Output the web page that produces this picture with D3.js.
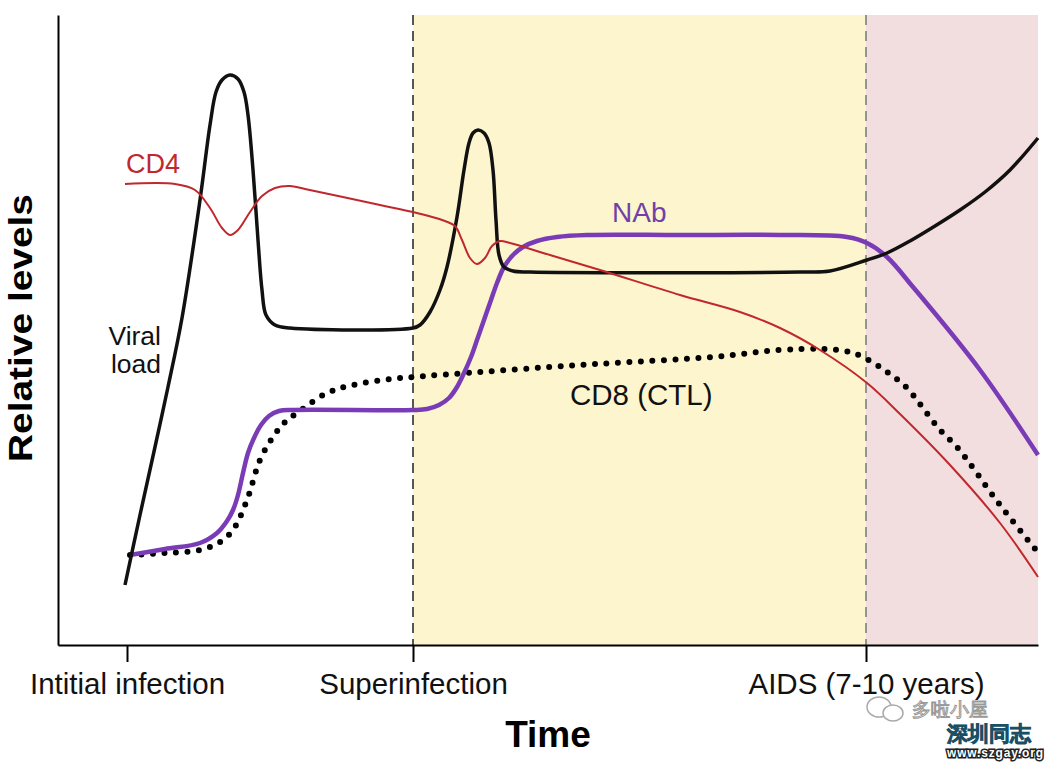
<!DOCTYPE html>
<html lang="en">
<head>
<meta charset="UTF-8"/>
<title>HIV infection time course</title>
<script src="https://cdn.jsdelivr.net/npm/d3@7"></script>
<style>
  body { margin: 0; background: #fff; }
  svg text { font-family: "Liberation Sans", Arial, sans-serif; }
</style>
</head>
<body>
<script>
// time in arbitrary units (0 = initial infection), level in arbitrary units
var tickTimes = [0, 286, 739];
var tickLabels = ["Intitial infection", "Superinfection", "AIDS (7-10 years)"];
var phaseStarts = [286, 739];
var phaseEnds = [739, 911];
var phaseColors = ["#fdf5cd", "#f3dedf"];

var viralLoad = [[-2,60],[13,130],[28,198],[41,258],[55,327],[73,445],[83,520],[89,553],[95,565],
  [103,570],[111,566],[117,553],[121,530],[126,475],[131,405],[135,355],[139,330],[148,320],[163,317],
  [286,317],[293,320],[303,333],[313,355],[320,378],[330,428],[337,475],[342,502],[346,512],[351,515],
  [357,512],[362,502],[366,475],[369,425],[372,390],[377,378],[386,374],[403,373],[673,373],[703,374],
  [740,385],[760,392],[783,404],[808,419],[833,435],[858,453],[883,475],[911,507]];

var cd4 = [[-2,461],[48,461],[68,455],[83,437],[95,417],[103,410],[111,415],[123,433],[135,449],
  [148,457],[163,459],[178,456],[253,440],[286,433],[318,424],[328,419],[335,405],[343,387],[350,381],
  [358,387],[365,399],[373,404],[383,402],[423,390],[473,375],[553,350],[613,333],[653,317],[693,295],
  [740,262],[773,231],[823,180],[873,122],[911,68]];

var nab = [[3,90],[38,96],[73,102],[90,112],[100,124],[106,135],[111,150],[116,172],[121,192],
  [127,207],[134,220],[142,229],[152,234],[166,235],[286,235],[300,236],[312,240],[322,247],[330,258],
  [337,272],[344,288],[350,305],[357,325],[364,345],[370,362],[377,378],[386,390],[396,398],[410,404],
  [430,408],[460,410],[553,410],[653,410],[720,408],[740,402],[760,388],[786,358],[853,275],[911,190]];

var cd8 = [[3,90],[38,92],[73,95],[93,103],[106,115],[120,145],[133,185],[146,208],[158,223],
  [170,232],[200,252],[226,260],[263,266],[286,268],[353,273],[423,278],[486,282],[586,288],[653,295],
  [696,296],[723,293],[736,288],[760,273],[780,257],[796,237],[813,215],[830,198],[873,140],[913,90]];

var w = 1050;
var h = 762;

var svg = d3.select("body")
  .append("svg")
  .attr("width", w)
  .attr("height", h);

var xScale = d3.scaleLinear()
  .domain([-69, 911])
  .range([58, 1038]);

var yScale = d3.scaleLinear()
  .domain([0, 630])
  .range([645, 15]);

// shaded phases
svg.selectAll("rect.phase")
  .data(phaseStarts)
  .enter()
  .append("rect")
  .attr("class", "phase")
  .attr("x", function(d) { return xScale(d); })
  .attr("y", yScale(630))
  .attr("width", function(d, i) { return xScale(phaseEnds[i]) - xScale(d); })
  .attr("height", yScale(0) - yScale(630))
  .attr("fill", function(d, i) { return phaseColors[i]; });

svg.selectAll("line.divider")
  .data(phaseStarts)
  .enter()
  .append("line")
  .attr("class", "divider")
  .attr("x1", function(d) { return xScale(d); })
  .attr("x2", function(d) { return xScale(d); })
  .attr("y1", yScale(630))
  .attr("y2", yScale(0))
  .attr("stroke", function(d, i) { return i == 0 ? "#222" : "#777"; })
  .attr("stroke-width", 1.5)
  .attr("stroke-dasharray", "10,6");

var line = d3.line()
  .x(function(d) { return xScale(d[0]); })
  .y(function(d) { return yScale(d[1]); })
  .curve(d3.curveCatmullRom.alpha(0.5));

svg.append("path")
  .datum(cd8)
  .attr("d", line)
  .attr("fill", "none")
  .attr("stroke", "#000")
  .attr("stroke-width", 6)
  .attr("stroke-linecap", "round")
  .attr("stroke-dasharray", "0,11.5");

svg.append("path")
  .datum(nab)
  .attr("d", line)
  .attr("fill", "none")
  .attr("stroke", "#7a3cb6")
  .attr("stroke-width", 4.5);

svg.append("path")
  .datum(viralLoad)
  .attr("d", line)
  .attr("fill", "none")
  .attr("stroke", "#111")
  .attr("stroke-width", 3.5);

svg.append("path")
  .datum(cd4)
  .attr("d", line)
  .attr("fill", "none")
  .attr("stroke", "#c0282d")
  .attr("stroke-width", 2);

// axes
var xAxis = d3.axisBottom()
  .scale(xScale)
  .tickValues(tickTimes)
  .tickFormat(function(d, i) { return tickLabels[i]; })
  .tickSizeInner(17)
  .tickSizeOuter(0)
  .tickPadding(11);

var yAxis = d3.axisLeft()
  .scale(yScale)
  .tickValues([])
  .tickSizeOuter(0);

var gx = svg.append("g")
  .attr("transform", "translate(0," + yScale(0) + ")")
  .call(xAxis);
gx.select(".domain").attr("stroke-width", 2);
gx.selectAll(".tick line").attr("stroke-width", 2);
gx.selectAll(".tick text")
  .attr("font-family", "Liberation Sans, Arial, sans-serif")
  .attr("font-size", 29.5)
  .attr("fill", "#111");

var gy = svg.append("g")
  .attr("transform", "translate(" + xScale(-69) + ",0)")
  .call(yAxis);
gy.select(".domain").attr("stroke-width", 2);

// labels
svg.append("text")
  .attr("x", 126).attr("y", 173)
  .attr("font-size", 27).attr("fill", "#c0282d")
  .text("CD4");

svg.append("text")
  .attr("x", 612).attr("y", 222)
  .attr("font-size", 28).attr("fill", "#7040a8")
  .text("NAb");

svg.append("text")
  .attr("x", 161).attr("y", 345)
  .attr("text-anchor", "end")
  .attr("font-size", 26.5).attr("fill", "#111")
  .text("Viral");

svg.append("text")
  .attr("x", 161).attr("y", 373)
  .attr("text-anchor", "end")
  .attr("font-size", 26.5).attr("fill", "#111")
  .text("load");

svg.append("text")
  .attr("x", 570).attr("y", 405)
  .attr("font-size", 29.5).attr("fill", "#111")
  .text("CD8 (CTL)");

svg.append("text")
  .attr("x", 548).attr("y", 747)
  .attr("text-anchor", "middle")
  .attr("font-size", 37).attr("font-weight", "bold").attr("fill", "#000")
  .text("Time");

svg.append("text")
  .attr("transform", "translate(32,328) rotate(-90)")
  .attr("text-anchor", "middle")
  .attr("font-size", 34).attr("font-weight", "bold").attr("fill", "#000")
  .attr("textLength", 268).attr("lengthAdjust", "spacingAndGlyphs")
  .text("Relative levels");

// watermark
var wm = svg.append("g");
wm.append("ellipse").attr("cx", 879).attr("cy", 707).attr("rx", 12).attr("ry", 10)
  .attr("fill", "none").attr("stroke", "#aaa").attr("stroke-width", 1.5);
wm.append("ellipse").attr("cx", 893).attr("cy", 713).attr("rx", 10).attr("ry", 8)
  .attr("fill", "#fff").attr("stroke", "#aaa").attr("stroke-width", 1.5);
wm.append("text")
  .attr("x", 912).attr("y", 716)
  .attr("font-family", "Noto Sans CJK SC").attr("font-size", 19)
  .attr("fill", "#fff").attr("stroke", "#999").attr("stroke-width", 1)
  .text("多啦小屋");
wm.append("text")
  .attr("x", 947).attr("y", 741)
  .attr("font-family", "Noto Sans CJK SC").attr("font-size", 21).attr("font-weight", "bold")
  .attr("fill", "#3ba7cc").attr("stroke", "#1b4f66").attr("stroke-width", 0.8)
  .text("深圳同志");
wm.append("text")
  .attr("x", 947).attr("y", 757)
  .attr("font-family", "DejaVu Sans").attr("font-size", 12).attr("font-weight", "bold")
  .attr("fill", "#fff").attr("stroke", "#222").attr("stroke-width", 3)
  .attr("paint-order", "stroke")
  .attr("textLength", 96)
  .text("www.szgay.org");
</script>
</body>
</html>
